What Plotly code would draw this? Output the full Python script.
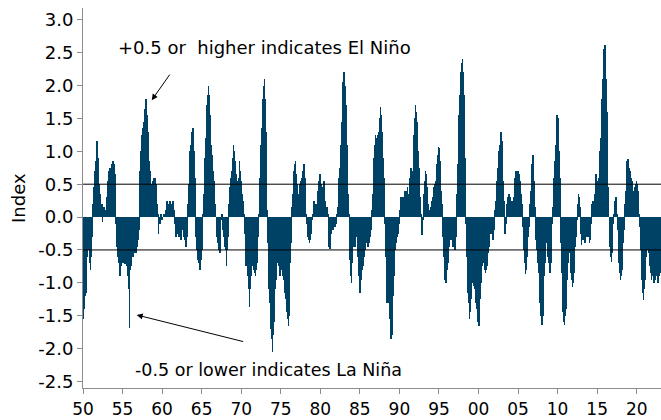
import plotly.graph_objects as go

# Monthly index values, Jan..Dec
oni = {
    1950: [-1.55, -1.4, -1.3, -1.2, -1.15, -0.95, -0.6, -0.45, -0.4, -0.5, -0.7, -0.8],
    1951: [-0.6, -0.3, -0.05, 0.2, 0.45, 0.6, 0.7, 0.85, 1.0, 1.15, 0.9, 0.6],
    1952: [0.5, 0.35, 0.3, 0.2, 0.2, -0.08, 0.15, 0.12, 0.15, 0.1, 0.05, 0.1],
    1953: [0.3, 0.55, 0.65, 0.7, 0.75, 0.72, 0.75, 0.8, 0.78, 0.85, 0.82, 0.8],
    1954: [0.65, 0.3, -0.1, -0.45, -0.55, -0.6, -0.7, -0.75, -0.9, -0.75, -0.65, -0.7],
    1955: [-0.7, -0.65, -0.7, -0.72, -0.68, -0.7, -0.75, -0.8, -0.9, -1.1, -1.68, -0.8],
    1956: [-0.75, -0.65, -0.6, -0.6, -0.55, -0.55, -0.5, -0.5, -0.55, -0.45, -0.4, -0.35],
    1957: [-0.2, 0.3, 0.7, 1.0, 1.15, 1.25, 1.3, 1.35, 1.45, 1.55, 1.65, 1.8],
    1958: [1.75, 1.55, 1.3, 1.0, 0.85, 0.7, 0.6, 0.5, 0.45, 0.55, 0.5, 0.6],
    1959: [0.55, 0.6, 0.5, 0.35, 0.2, 0.05, -0.25, -0.1, -0.05, -0.1, 0.05, -0.05],
    1960: [-0.05, 0.0, 0.05, 0.0, 0.05, 0.1, 0.15, 0.25, 0.1, 0.05, 0.2, 0.25],
    1961: [0.15, 0.1, 0.05, 0.2, 0.25, 0.2, 0.1, -0.1, -0.25, -0.3, -0.2, -0.2],
    1962: [-0.25, -0.3, -0.2, -0.3, -0.35, -0.25, -0.15, -0.2, -0.25, -0.3, -0.35, -0.4],
    1963: [-0.45, -0.3, -0.05, 0.2, 0.5, 0.8, 1.0, 1.1, 1.2, 1.3, 1.35, 1.25],
    1964: [1.0, 0.6, 0.15, -0.3, -0.5, -0.6, -0.65, -0.7, -0.75, -0.8, -0.75, -0.65],
    1965: [-0.5, -0.25, 0.05, 0.35, 0.6, 0.9, 1.2, 1.45, 1.7, 1.85, 2.0, 1.85],
    1966: [1.55, 1.3, 1.1, 0.95, 0.8, 0.7, 0.55, 0.45, 0.2, 0.0, -0.15, -0.3],
    1967: [-0.4, -0.45, -0.5, -0.55, -0.3, -0.05, 0.05, -0.1, -0.2, -0.3, -0.35, -0.45],
    1968: [-0.5, -0.75, -0.5, -0.3, -0.1, 0.2, 0.45, 0.6, 0.5, 0.45, 0.7, 0.9],
    1969: [1.1, 1.0, 0.85, 0.75, 0.65, 0.55, 0.5, 0.45, 0.6, 0.85, 0.7, 0.55],
    1970: [0.45, 0.35, 0.25, 0.15, 0.05, -0.25, -0.6, -0.75, -0.7, -0.8, -0.9, -1.1],
    1971: [-1.37, -1.1, -0.9, -0.8, -0.75, -0.7, -0.75, -0.8, -0.85, -0.9, -0.8, -0.7],
    1972: [-0.55, -0.3, 0.05, 0.35, 0.6, 0.85, 1.1, 1.35, 1.6, 1.8, 2.0, 2.1],
    1973: [1.8, 1.3, 0.7, 0.1, -0.4, -0.8, -1.1, -1.3, -1.5, -1.7, -1.85, -2.05],
    1974: [-1.8, -1.6, -1.35, -1.1, -0.95, -0.85, -0.7, -0.55, -0.6, -0.75, -0.9, -0.8],
    1975: [-0.7, -0.8, -0.85, -0.9, -0.95, -1.05, -1.15, -1.25, -1.35, -1.45, -1.55, -1.65],
    1976: [-1.5, -1.1, -0.7, -0.4, -0.1, 0.15, 0.35, 0.55, 0.7, 0.8, 0.85, 0.65],
    1977: [0.5, 0.3, 0.25, 0.35, 0.45, 0.5, 0.55, 0.5, 0.6, 0.7, 0.75, 0.8],
    1978: [0.6, 0.3, 0.05, -0.1, -0.2, -0.3, -0.35, -0.4, -0.35, -0.25, -0.15, -0.05],
    1979: [0.05, 0.15, 0.25, 0.2, 0.15, 0.1, 0.2, 0.3, 0.4, 0.5, 0.55, 0.65],
    1980: [0.6, 0.5, 0.35, 0.35, 0.45, 0.55, 0.4, 0.25, 0.15, 0.1, 0.15, 0.05],
    1981: [-0.2, -0.45, -0.48, -0.35, -0.25, -0.2, -0.15, -0.2, -0.15, -0.1, -0.15, -0.1],
    1982: [-0.05, 0.05, 0.15, 0.4, 0.6, 0.75, 0.85, 1.1, 1.45, 1.8, 2.05, 2.2],
    1983: [2.2, 2.0, 1.7, 1.4, 1.1, 0.75, 0.35, 0.05, -0.3, -0.65, -0.9, -1.0],
    1984: [-0.7, -0.45, -0.35, -0.4, -0.45, -0.4, -0.3, -0.25, -0.35, -0.6, -0.9, -1.05],
    1985: [-1.15, -0.95, -0.85, -0.8, -0.75, -0.7, -0.6, -0.5, -0.45, -0.4, -0.35, -0.4],
    1986: [-0.45, -0.4, -0.35, -0.3, -0.2, -0.1, 0.1, 0.35, 0.65, 0.9, 1.1, 1.25],
    1987: [1.2, 1.0, 1.15, 1.25, 1.1, 1.3, 1.5, 1.68, 1.55, 1.3, 1.1, 0.9],
    1988: [0.6, 0.25, -0.1, -0.6, -1.0, -1.3, -1.2, -1.1, -1.3, -1.55, -1.75, -1.85],
    1989: [-1.8, -1.5, -1.2, -0.9, -0.7, -0.5, -0.4, -0.35, -0.3, -0.25, -0.2, -0.1],
    1990: [0.1, 0.25, 0.3, 0.3, 0.3, 0.25, 0.3, 0.35, 0.4, 0.35, 0.4, 0.4],
    1991: [0.45, 0.35, 0.3, 0.4, 0.6, 0.75, 0.7, 0.65, 0.7, 0.95, 1.25, 1.5],
    1992: [1.71, 1.6, 1.45, 1.25, 1.0, 0.75, 0.5, 0.3, 0.05, -0.15, -0.27, -0.05],
    1993: [0.15, 0.35, 0.55, 0.7, 0.65, 0.45, 0.3, 0.2, 0.1, 0.05, 0.1, 0.15],
    1994: [0.2, 0.25, 0.3, 0.4, 0.45, 0.5, 0.55, 0.5, 0.6, 0.8, 0.95, 1.07],
    1995: [1.05, 0.85, 0.6, 0.4, 0.2, 0.05, -0.3, -0.6, -0.8, -0.95, -1.0, -0.9],
    1996: [-0.8, -0.7, -0.55, -0.45, -0.35, -0.3, -0.3, -0.35, -0.4, -0.45, -0.45, -0.45],
    1997: [-0.5, -0.3, -0.05, 0.35, 0.8, 1.2, 1.55, 1.85, 2.05, 2.2, 2.35, 2.4],
    1998: [2.2, 1.85, 1.4, 0.9, 0.4, -0.1, -0.6, -0.95, -1.15, -1.3, -1.55, -1.45],
    1999: [-1.25, -1.05, -1.0, -0.95, -1.0, -1.05, -1.1, -1.2, -1.3, -1.4, -1.5, -1.6],
    2000: [-1.65, -1.45, -1.25, -1.0, -0.85, -0.75, -0.7, -0.65, -0.7, -0.8, -0.85, -0.8],
    2001: [-0.75, -0.65, -0.55, -0.45, -0.35, -0.25, -0.2, -0.15, -0.25, -0.35, -0.3, -0.2],
    2002: [-0.05, 0.1, 0.25, 0.4, 0.55, 0.75, 0.9, 1.0, 1.1, 1.2, 1.3, 1.15],
    2003: [0.9, 0.55, 0.25, 0.0, -0.25, -0.1, 0.1, 0.2, 0.3, 0.35, 0.35, 0.3],
    2004: [0.3, 0.25, 0.2, 0.2, 0.25, 0.3, 0.45, 0.6, 0.7, 0.7, 0.65, 0.7],
    2005: [0.7, 0.65, 0.55, 0.5, 0.35, 0.2, 0.0, -0.15, -0.3, -0.5, -0.7, -0.86],
    2006: [-0.8, -0.6, -0.45, -0.3, -0.15, 0.05, 0.2, 0.4, 0.6, 0.8, 0.94, 0.85],
    2007: [0.55, 0.15, -0.15, -0.35, -0.5, -0.6, -0.7, -0.85, -1.1, -1.3, -1.5, -1.6],
    2008: [-1.64, -1.5, -1.2, -0.9, -0.7, -0.5, -0.3, -0.4, -0.5, -0.6, -0.7, -0.8],
    2009: [-0.85, -0.7, -0.5, -0.1, 0.15, 0.4, 0.6, 0.75, 0.85, 1.1, 1.35, 1.55],
    2010: [1.5, 1.3, 1.0, 0.6, 0.1, -0.4, -0.85, -1.2, -1.45, -1.6, -1.64, -1.5],
    2011: [-1.4, -1.2, -0.95, -0.7, -0.5, -0.45, -0.55, -0.7, -0.85, -0.95, -1.06, -1.0],
    2012: [-0.85, -0.65, -0.45, -0.3, -0.15, -0.05, 0.2, 0.35, 0.3, 0.15, -0.1, -0.25],
    2013: [-0.43, -0.35, -0.25, -0.3, -0.35, -0.4, -0.3, -0.25, -0.3, -0.25, -0.2, -0.3],
    2014: [-0.4, -0.35, -0.1, 0.1, 0.2, 0.25, 0.15, 0.2, 0.35, 0.5, 0.66, 0.55],
    2015: [0.55, 0.5, 0.6, 0.8, 1.0, 1.2, 1.5, 1.8, 2.1, 2.35, 2.55, 2.62],
    2016: [2.45, 2.1, 1.6, 1.0, 0.45, 0.0, -0.3, -0.45, -0.6, -0.68, -0.55, -0.3],
    2017: [-0.1, 0.05, 0.15, 0.25, 0.3, 0.2, 0.05, -0.2, -0.45, -0.7, -0.85, -0.96],
    2018: [-0.9, -0.8, -0.6, -0.4, -0.2, 0.05, 0.2, 0.4, 0.6, 0.85, 0.89, 0.8],
    2019: [0.75, 0.7, 0.65, 0.6, 0.55, 0.45, 0.4, 0.3, 0.35, 0.45, 0.5, 0.55],
    2020: [0.5, 0.4, 0.25, 0.05, -0.15, -0.35, -0.5, -0.7, -0.95, -1.15, -1.26, -1.1],
    2021: [-0.95, -0.8, -0.6, -0.5, -0.45, -0.5, -0.55, -0.65, -0.75, -0.85, -0.95, -0.9],
    2022: [-0.85, -0.9, -1.0, -0.95, -0.9, -0.85, -0.9, -0.95, -1.0, -0.9, -0.85, -0.85],
}

tick_years = [1950, 1955, 1960, 1965, 1970, 1975, 1980, 1985, 1990, 1995,
              2000, 2005, 2010, 2015, 2020]
tick_labels = ["50", "55", "60", "65", "70", "75", "80", "85", "90", "95",
               "00", "05", "10", "15", "20"]
y_ticks = [-2.5, -2.0, -1.5, -1.0, -0.5, 0.0, 0.5, 1.0, 1.5, 2.0, 2.5, 3.0]
y_tick_labels = ["-2.5", "-2.0", "-1.5", "-1.0", "-0.5", "0.0", "0.5", "1.0",
                 "1.5", "2.0", "2.5", "3.0"]
thresholds = [0.5, -0.5]

x_vals, y_vals = [], []
for yr, months in oni.items():
    for m, v in enumerate(months):
        x_vals.append(yr + (m + 0.5) / 12.0)
        y_vals.append(v)

BAR = "#004266"
FONT = "DejaVu Sans"
FS = 18

fig = go.Figure()
fig.add_trace(go.Bar(x=x_vals, y=y_vals, width=1 / 12.0,
                     marker=dict(color=BAR, line=dict(width=0)),
                     hoverinfo="skip"))

for t in thresholds:
    fig.add_shape(type="line", xref="paper", x0=0, x1=1, yref="y", y0=t, y1=t,
                  line=dict(color="black", width=1), layer="above")

annotations = [
    dict(x=1972.95, y=2.583, xref="x", yref="y",
         text="+0.5 or \u00a0higher indicates El Niño", showarrow=False,
         font=dict(family=FONT, size=FS, color="black")),
    dict(x=1973.39, y=-2.325, xref="x", yref="y",
         text="-0.5 or lower indicates La Niña", showarrow=False,
         font=dict(family=FONT, size=17.5, color="black")),
    dict(x=1958.69, y=1.778, xref="x", yref="y", text="", showarrow=True,
         ax=19, ay=-27, arrowhead=2, arrowsize=1.2, arrowwidth=1,
         arrowcolor="black", standoff=0),
    dict(x=1956.79, y=-1.489, xref="x", yref="y", text="", showarrow=True,
         ax=108, ay=27, arrowhead=2, arrowsize=1.2, arrowwidth=1,
         arrowcolor="black", standoff=0),
    dict(x=-0.1125, y=0.5, xref="paper", yref="paper", text="Index",
         showarrow=False, textangle=-90, xanchor="center", yanchor="middle",
         font=dict(family=FONT, size=FS, color="black")),
]

fig.update_layout(
    width=661, height=420,
    margin=dict(l=83, r=0, t=8, b=32, autoexpand=False),
    paper_bgcolor="white", plot_bgcolor="white",
    showlegend=False, bargap=0,
    font=dict(family=FONT, size=FS, color="black"),
    annotations=annotations,
    xaxis=dict(range=[1950, 2023.07], tickvals=tick_years, ticktext=tick_labels,
               automargin=False, ticklabelstandoff=1,
               showgrid=False, zeroline=False, showline=True, linecolor="#8c8c8c",
               linewidth=1, ticks="outside", ticklen=5, tickcolor="#8c8c8c",
               tickfont=dict(family=FONT, size=17, color="black")),
    yaxis=dict(range=[-2.6, 3.18], tickvals=y_ticks, ticktext=y_tick_labels,
               automargin=False,
               showgrid=False, zeroline=False, showline=True, linecolor="#8c8c8c",
               linewidth=1, ticks="outside", ticklen=5, tickcolor="#8c8c8c",
               tickfont=dict(family=FONT, size=FS, color="black")),
)

fig.write_html(
    "out.html",
    config={"displayModeBar": False},
    post_script="document.body.style.margin='0';document.body.style.overflow='hidden';",
)
